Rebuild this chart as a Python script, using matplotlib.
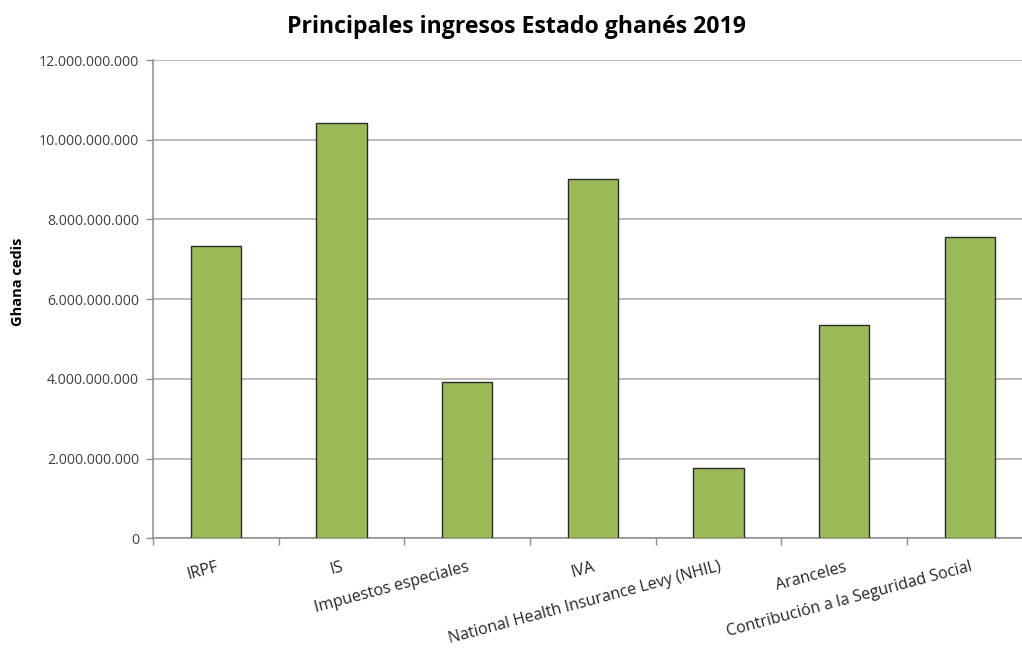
import numpy as np
import matplotlib.pyplot as plt
from matplotlib.ticker import FuncFormatter

# Data
categorias = ['IRPF', 'IS', 'Impuestos especiales', 'IVA',
              'National Health Insurance Levy (NHIL)', 'Aranceles',
              'Contribución a la Seguridad Social']
ingresos = [7.33e9, 10.43e9, 3.93e9, 9.02e9, 1.76e9, 5.35e9, 7.57e9]
y_ticks = [0, 2e9, 4e9, 6e9, 8e9, 10e9, 12e9]

plt.rcParams['font.family'] = ['Open Sans', 'DejaVu Sans']

fig = plt.figure(figsize=(10.22, 6.54), dpi=100)
ax = fig.add_axes([0.1497, 0.1769, 0.8608, 0.7313])

x = np.arange(len(categorias))
ax.bar(x, ingresos, width=0.4, color='#9BBB59', edgecolor='#2b2b2b',
       linewidth=1.0, zorder=3)

# y axis
ax.set_ylim(0, 12e9)
ax.set_yticks(y_ticks)
ax.yaxis.set_major_formatter(FuncFormatter(
    lambda v, p: '0' if v == 0 else f'{int(v):,}'.replace(',', '.')))
ax.grid(axis='y', color='#a6a6a6', linewidth=1.1, zorder=0)
ax.tick_params(axis='y', length=5, width=1, color='#8c8c8c',
               labelsize=10.2, labelcolor='#404040', pad=5)

# x axis: ticks between categories, labels at the centers
ax.set_xlim(-0.5, len(categorias) - 0.5)
ax.set_xticks(np.arange(len(categorias) + 1) - 0.5)
ax.set_xticklabels([])
ax.set_xticks(x, minor=True)
ax.set_xticklabels(categorias, minor=True, rotation=15, ha='right',
                   rotation_mode='anchor', fontsize=11.5, color='#262626')
ax.tick_params(axis='x', which='major', length=5, width=1, color='#8c8c8c')
ax.tick_params(axis='x', which='minor', length=0, pad=15)

for side in ['top', 'right']:
    ax.spines[side].set_visible(False)
for side in ['left', 'bottom']:
    ax.spines[side].set_color('#8c8c8c')
    ax.spines[side].set_linewidth(1.1)

ax.set_ylabel('Ghana cedis', fontsize=10.5, fontweight='bold')
ax.yaxis.set_label_coords(-0.146, 0.536)
fig.text(0.505, 0.958, 'Principales ingresos Estado ghanés 2019',
         ha='center', va='center', fontsize=16.7, fontweight='bold')

fig.savefig('out.png', dpi=100)
